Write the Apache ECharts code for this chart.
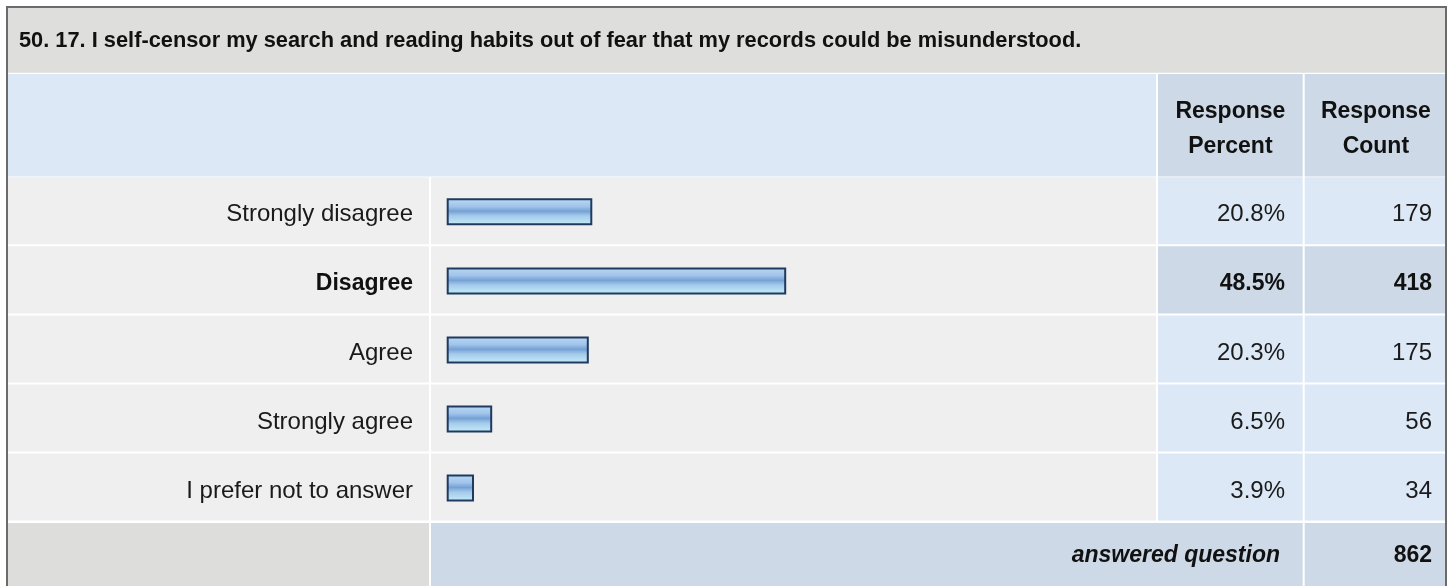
<!DOCTYPE html>
<html>
<head>
<meta charset="utf-8">
<script src="https://cdn.jsdelivr.net/npm/echarts@6/dist/echarts.min.js"></script>
<style>
html,body{margin:0;padding:0;background:#fff;}
#chart{width:1453px;height:586px;}
</style>
</head>
<body>
<div id="chart"></div>
<script>
// ---- data ----
const titleText = '50. 17. I self-censor my search and reading habits out of fear that my records could be misunderstood.';
const categories = ['Strongly disagree', 'Disagree', 'Agree', 'Strongly agree', 'I prefer not to answer'];
const percents = [20.8, 48.5, 20.3, 6.5, 3.9];
const counts = [179, 418, 175, 56, 34];
const headerPercent = ['Response', 'Percent'];
const headerCount = ['Response', 'Count'];
const footerLabel = 'answered question';
const answeredTotal = 862;

// ---- layout ----
const FONT = '"Liberation Sans", Arial, Helvetica, sans-serif';
const colA = [8, 429], colB = [431, 1156], colC = [1158, 1302.7], colD = [1304.7, 1445];
const titleRow = [8, 72.7], headRow = [74, 176.5], footRow = [523, 600];
const rowTop = 177.3, rowPitch = 69.05;
const maxIdx = percents.indexOf(Math.max(...percents));

const graphics = [];
function rect(x0, x1, y0, y1, fill) {
  graphics.push({type: 'rect', z: -10, silent: true,
    shape: {x: x0, y: y0, width: x1 - x0, height: y1 - y0}, style: {fill: fill}});
}
function text(x, y, str, opts) {
  graphics.push({type: 'text', z: 10, silent: true, x: x, y: y,
    style: Object.assign({text: str, font: '24px ' + FONT, fill: '#1a1a1a',
      textAlign: 'left', textVerticalAlign: 'middle'}, opts)});
}
// title row
rect(colA[0], colD[1], titleRow[0], titleRow[1], '#dededc');
text(19, 40.5, titleText, {font: 'bold 21.8px ' + FONT, fill: '#111'});
// header row
rect(colA[0], colB[1], headRow[0], headRow[1], '#dce8f5');
rect(colC[0], colC[1], headRow[0], headRow[1], '#cdd9e6');
rect(colD[0], colD[1], headRow[0], headRow[1], '#cdd9e6');
text((colC[0] + colC[1]) / 2, 129.5, headerPercent.join('\n'),
  {font: 'bold 23px ' + FONT, fill: '#111', textAlign: 'center', lineHeight: 35});
text((colD[0] + colD[1]) / 2 + 1, 129.5, headerCount.join('\n'),
  {font: 'bold 23px ' + FONT, fill: '#111', textAlign: 'center', lineHeight: 35});
// data rows backgrounds
categories.forEach(function (c, i) {
  const y0 = rowTop + i * rowPitch, y1 = y0 + rowPitch - 2;
  rect(colA[0], colA[1], y0, y1, '#efefef');
  rect(colB[0], colB[1], y0, y1, '#efefef');
  const cf = i === maxIdx ? '#cdd9e6' : '#dce8f5';
  rect(colC[0], colC[1], y0, y1, cf);
  rect(colD[0], colD[1], y0, y1, cf);
});
// footer row
rect(colA[0], colA[1], footRow[0], footRow[1], '#dddddb');
rect(colB[0], colC[1], footRow[0], footRow[1], '#cdd9e6');
rect(colD[0], colD[1], footRow[0], footRow[1], '#cdd9e6');
text(1280, 556, footerLabel, {font: 'italic bold 23px ' + FONT, fill: '#111', textAlign: 'right'});
text(1432, 556, String(answeredTotal), {font: 'bold 23px ' + FONT, fill: '#111', textAlign: 'right'});
// outer border
graphics.push({type: 'polyline', z: 20, silent: true,
  shape: {points: [[7, 600], [7, 7], [1446, 7], [1446, 600]]},
  style: {stroke: '#6b6b6b', lineWidth: 2, fill: null}});

const gridLeft = 446.7, gridWidth = 700;
const labelStyle = function () {
  return {
    fontSize: 24, fontFamily: FONT, color: '#1a1a1a', verticalAlign: 'middle',
    padding: [6, 0, 0, 0],
    rich: {b: {fontSize: 23, fontWeight: 'bold', fontFamily: FONT, color: '#111'}}
  };
};
const boldMax = function (v, i) { return i === maxIdx ? '{b|' + v + '}' : v; };

const chart = echarts.init(document.getElementById('chart'), null, {renderer: 'canvas'});
chart.setOption({
  backgroundColor: '#ffffff',
  animation: false,
  graphic: graphics,
  grid: {left: gridLeft, top: rowTop, width: gridWidth, height: rowPitch * categories.length},
  xAxis: {type: 'value', min: 0, max: 100, show: false},
  yAxis: [
    {type: 'category', inverse: true, data: categories,
      axisLine: {show: false}, axisTick: {show: false}, splitLine: {show: false},
      axisLabel: Object.assign(labelStyle(), {margin: gridLeft - 413, formatter: boldMax})},
    {type: 'category', inverse: true, position: 'right', offset: 0,
      data: percents.map(function (p) { return p.toFixed(1) + '%'; }),
      axisLine: {show: false}, axisTick: {show: false}, splitLine: {show: false},
      axisLabel: Object.assign(labelStyle(), {align: 'right', margin: 1285 - (gridLeft + gridWidth),
        formatter: boldMax})},
    {type: 'category', inverse: true, position: 'right', offset: 0,
      data: counts.map(String),
      axisLine: {show: false}, axisTick: {show: false}, splitLine: {show: false},
      axisLabel: Object.assign(labelStyle(), {align: 'right', margin: 1432 - (gridLeft + gridWidth),
        formatter: boldMax})}
  ],
  series: [{
    type: 'bar', yAxisIndex: 0, data: percents, barWidth: 27, z: 5,
    itemStyle: {
      borderColor: '#1f3a5e', borderWidth: 2,
      color: new echarts.graphic.LinearGradient(0, 0, 0, 1, [
        {offset: 0, color: '#bcd9f3'},
        {offset: 0.3, color: '#a0c4eb'},
        {offset: 0.48, color: '#76a1d5'},
        {offset: 0.65, color: '#a4caeb'},
        {offset: 1, color: '#c6eef9'}
      ])
    },
    silent: true
  }]
});
</script>
</body>
</html>
